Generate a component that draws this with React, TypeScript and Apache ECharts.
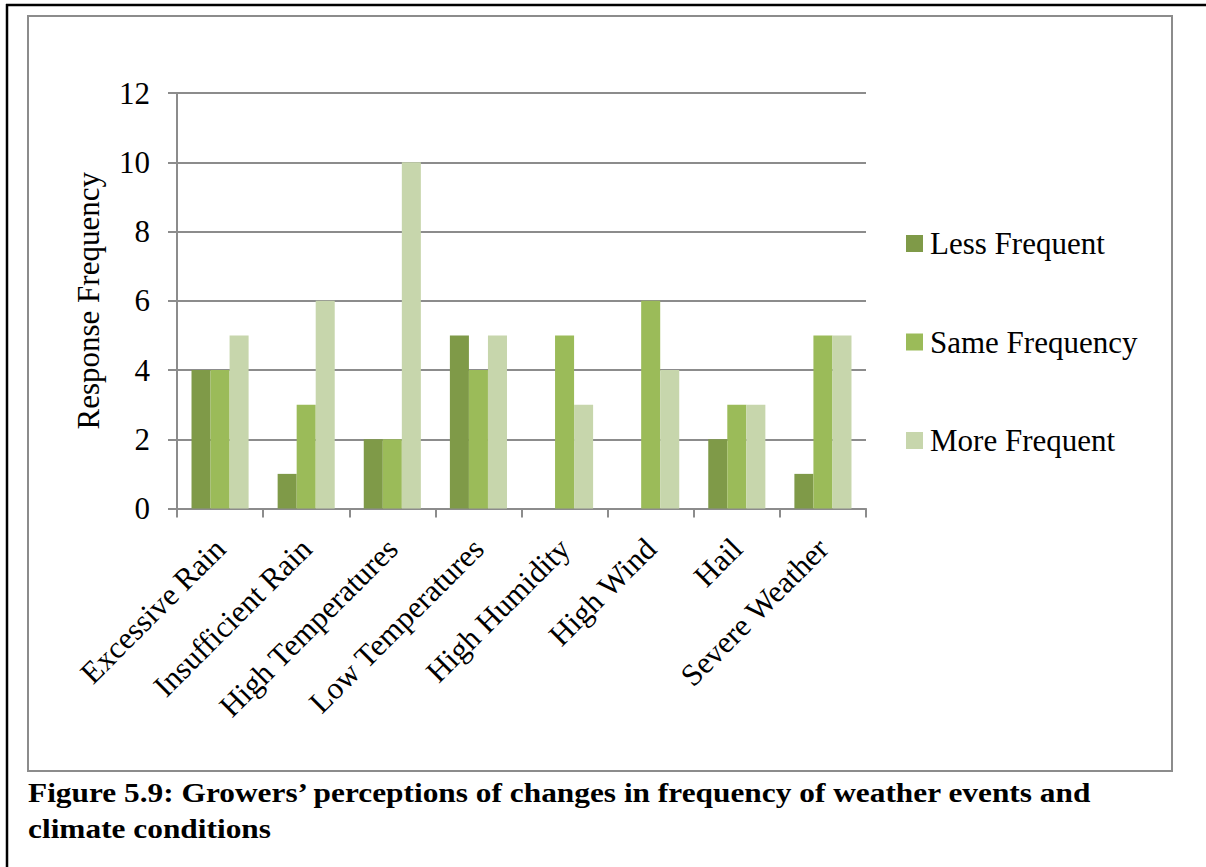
import React, { useEffect, useRef } from "react";
import * as echarts from "echarts";

const categories = [
  "Excessive Rain",
  "Insufficient Rain",
  "High Temperatures",
  "Low Temperatures",
  "High Humidity",
  "High Wind",
  "Hail",
  "Severe Weather",
];
const lessFrequent = [4, 1, 2, 5, 0, 0, 2, 1];
const sameFrequency = [4, 3, 2, 4, 5, 6, 3, 5];
const moreFrequent = [5, 6, 10, 5, 3, 4, 3, 5];
const seriesNames = ["Less Frequent", "Same Frequency", "More Frequent"];
const seriesColors = ["#7F9A48", "#9BBB59", "#C7D6AC"];
const yTitle = "Response Frequency";
const captionLines = [
  "Figure 5.9: Growers\u2019 perceptions of changes in frequency of weather events and",
  "climate conditions",
];

const FONT = "'Liberation Serif', 'Times New Roman', serif";

export default function App() {
  const ref = useRef<HTMLDivElement>(null);
  useEffect(() => {
    if (!ref.current) return;
    const chart = echarts.init(ref.current, undefined, { renderer: "svg" });
    const data = [lessFrequent, sameFrequency, moreFrequent];
    chart.setOption({
      animation: false,
      textStyle: { fontFamily: FONT, color: "#000" },
      grid: { left: 177, top: 93, right: 340, bottom: 358.5, containLabel: false },
      legend: {
        orient: "vertical",
        left: 906,
        top: 228,
        padding: 0,
        itemWidth: 17,
        itemHeight: 17,
        itemGap: 67.5,
        icon: "rect",
        data: seriesNames,
        textStyle: { fontFamily: FONT, fontSize: 31, color: "#000", lineHeight: 31, padding: [0, 0, 0, 2] },
      },
      xAxis: {
        type: "category",
        data: categories,
        axisLine: { lineStyle: { color: "#8c8c8c", width: 2 } },
        axisTick: { show: true, length: 9, lineStyle: { color: "#8c8c8c", width: 2 } },
        axisLabel: {
          rotate: 45,
          interval: 0,
          margin: 35,
          align: "right",
          verticalAlign: "middle",
          fontFamily: FONT,
          fontSize: 31,
          color: "#000",
        },
      },
      yAxis: {
        type: "value",
        min: 0,
        max: 12,
        interval: 2,
        name: yTitle,
        nameLocation: "middle",
        nameGap: 73,
        nameRotate: 90,
        nameTextStyle: { fontFamily: FONT, fontSize: 31, color: "#000" },
        axisLine: { show: true, lineStyle: { color: "#8c8c8c", width: 2 } },
        axisTick: { show: true, length: 9, lineStyle: { color: "#8c8c8c", width: 2 } },
        splitLine: { show: true, lineStyle: { color: "#8c8c8c", width: 2 } },
        axisLabel: { margin: 27, fontFamily: FONT, fontSize: 31, color: "#000" },
      },
      series: seriesNames.map((name, i) => ({
        name,
        type: "bar",
        data: data[i],
        barGap: "0%",
        barCategoryGap: "33.7%",
        itemStyle: { color: seriesColors[i] },
      })),
      graphic: [
        {
          type: "rect",
          z: -1,
          shape: { x: 28, y: 16, width: 1144, height: 755 },
          style: { fill: "none", stroke: "#8c8c8c", lineWidth: 2 },
        },
        {
          type: "line",
          shape: { x1: 6, y1: 5, x2: 1206, y2: 5 },
          style: { stroke: "#000", lineWidth: 2.5 },
        },
        {
          type: "line",
          shape: { x1: 7, y1: 4, x2: 7, y2: 867 },
          style: { stroke: "#000", lineWidth: 2.5 },
        },
        ...captionLines.map((t, i) => ({
          type: "text",
          x: 28,
          y: 793 + i * 36,
          scaleX: 1.12,
          style: {
            text: t,
            font: `bold 28px ${FONT}`,
            fill: "#000",
            verticalAlign: "middle",
            align: "left",
          },
        })),
      ],
    });
    return () => chart.dispose();
  }, []);
  return (
    <div
      ref={ref}
      style={{ position: "fixed", left: 0, top: 0, width: 1206, height: 867, background: "#fff" }}
    />
  );
}
